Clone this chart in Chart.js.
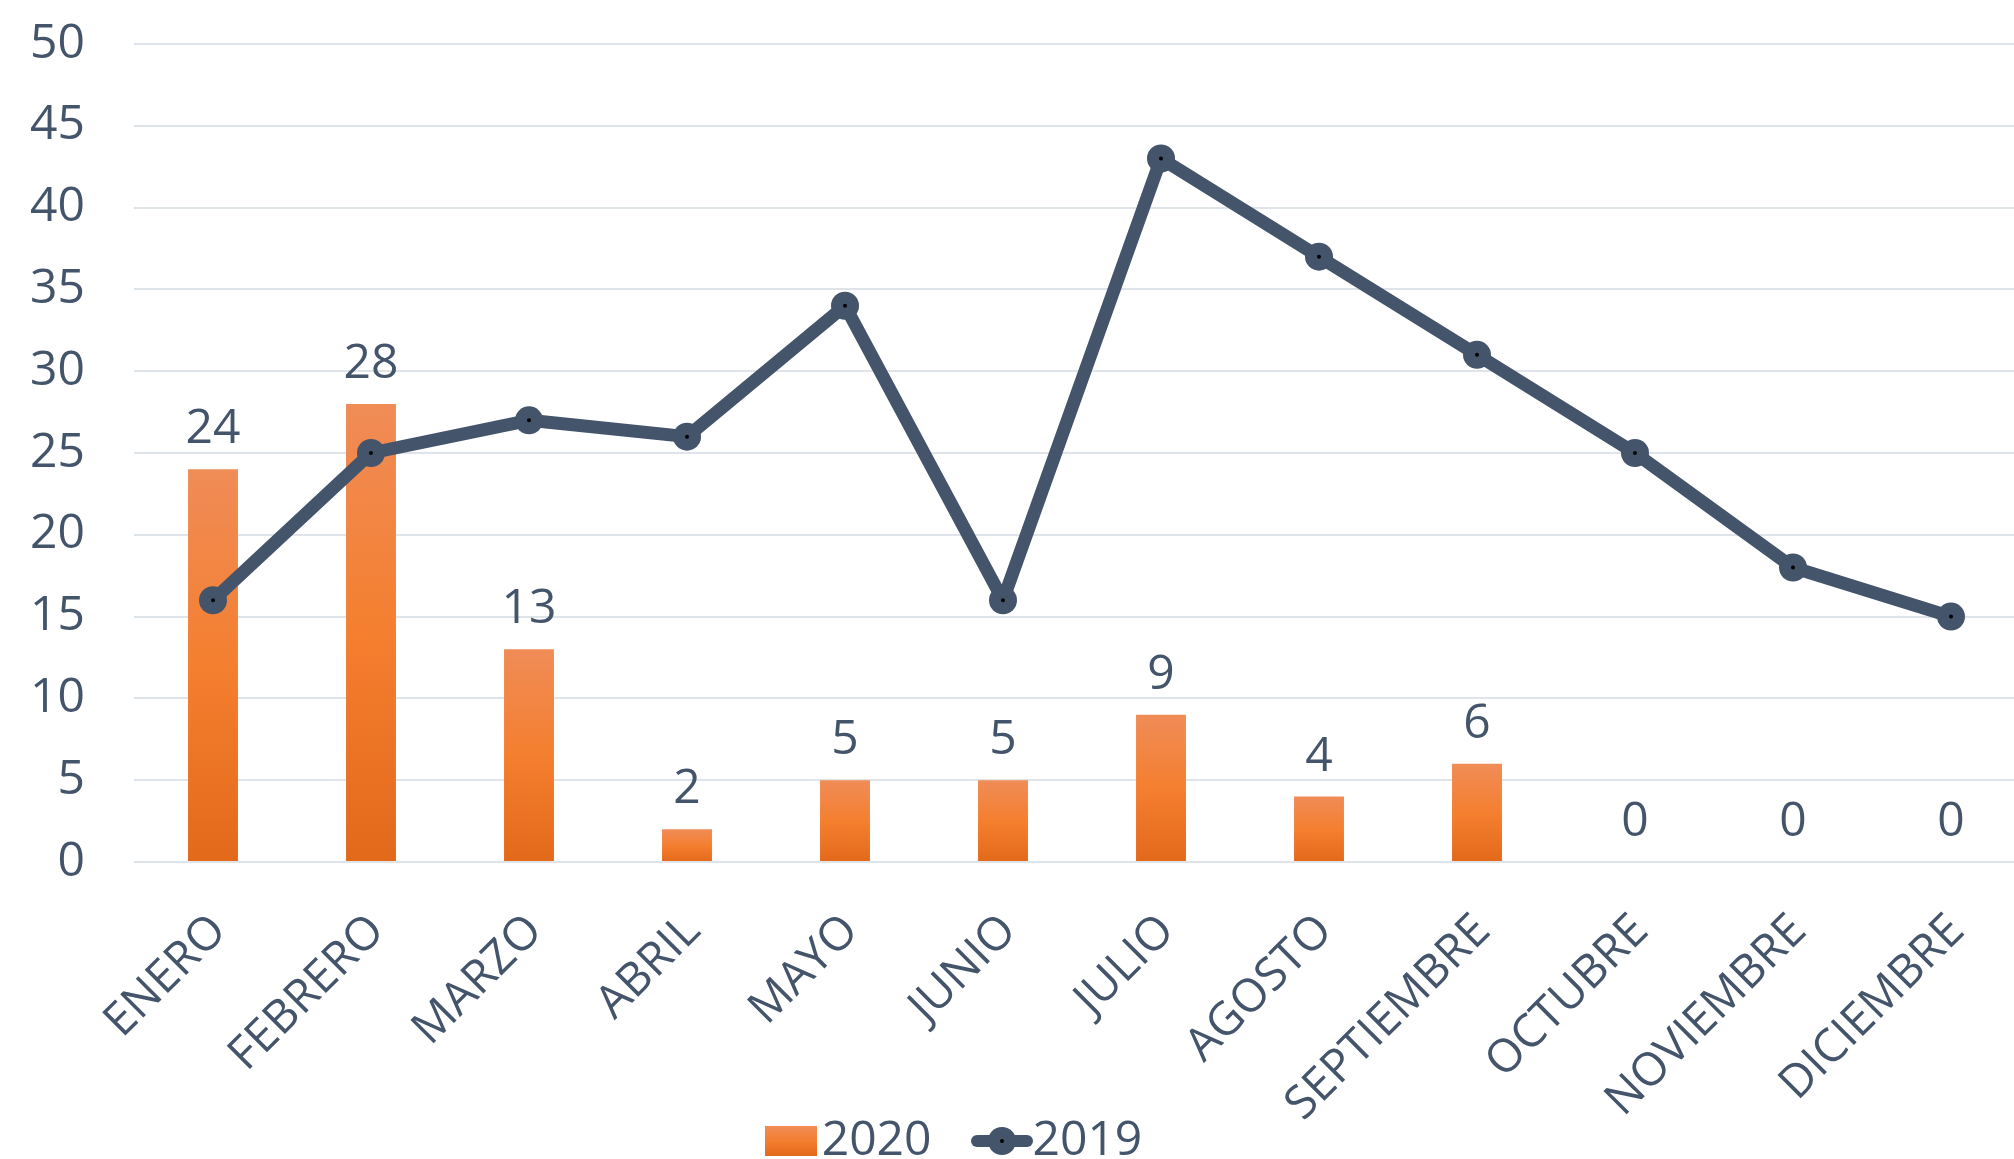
<!DOCTYPE html>
<html>
<head>
<meta charset="utf-8">
<script src="https://cdn.jsdelivr.net/npm/chart.js@4/dist/chart.umd.min.js"></script>
<style>
  html, body { margin: 0; padding: 0; background: #fff; overflow: hidden; }
  #wrap { position: absolute; left: 0; top: 0; width: 2030px; height: 1172px; }
</style>
</head>
<body>
<div id="wrap"><canvas id="chart"></canvas></div>
<script>
const months = ['ENERO', 'FEBRERO', 'MARZO', 'ABRIL', 'MAYO', 'JUNIO', 'JULIO',
  'AGOSTO', 'SEPTIEMBRE', 'OCTUBRE', 'NOVIEMBRE', 'DICIEMBRE']
const sales2020 = [24, 28, 13, 2, 5, 5, 9, 4, 6, 0, 0, 0]
const sales2019 = [16, 25, 27, 26, 34, 16, 43, 37, 31, 25, 18, 15]
const seriesNames = ['2020', '2019']

const TEXT = '#44546A'
const LINE = '#44546A'
const GRID = '#DFE3EA'
const FONT = "'Open Sans', 'Noto Sans', sans-serif"

Chart.defaults.font.family = FONT
Chart.defaults.color = TEXT

function orangeGradient(ctx, top, bottom) {
    const g = ctx.createLinearGradient(0, top, 0, bottom)
    g.addColorStop(0, '#F08C57')
    g.addColorStop(0.5, '#F47F2F')
    g.addColorStop(1, '#E3691A')
    return g
}

// legend swatches
const barSwatch = document.createElement('canvas')
barSwatch.width = 52
barSwatch.height = 30
{
    const c = barSwatch.getContext('2d')
    c.fillStyle = orangeGradient(c, 0, 30)
    c.fillRect(0, 0, 52, 30)
}
const lineSwatch = document.createElement('canvas')
lineSwatch.width = 62
lineSwatch.height = 30
{
    const c = lineSwatch.getContext('2d')
    c.strokeStyle = LINE
    c.lineWidth = 12
    c.lineCap = 'round'
    c.beginPath()
    c.moveTo(6, 15)
    c.lineTo(56, 15)
    c.stroke()
    c.fillStyle = LINE
    c.beginPath()
    c.arc(31, 15, 14, 0, Math.PI * 2)
    c.fill()
    c.fillStyle = '#000'
    c.beginPath()
    c.arc(31, 15, 2, 0, Math.PI * 2)
    c.fill()
}

const extras = {
    id: 'extras',
    afterLayout(chart) {
        // the legend sits left of the canvas centre in the original
        chart.legend.right = 1927
        chart.legend.top += 3
        chart.legend.bottom += 3
        // let the rotated month names run down past the axis box
        chart.scales.x.bottom = chart.height
    },
    afterDatasetsDraw(chart) {
        const ctx = chart.ctx
        ctx.save()
        ctx.font = '48px ' + FONT
        ctx.fillStyle = TEXT
        ctx.textAlign = 'center'
        ctx.textBaseline = 'alphabetic'
        chart.getDatasetMeta(0).data.forEach((bar, i) => {
            ctx.fillText(String(sales2020[i]), bar.x, bar.y - 26)
        })
        ctx.fillStyle = '#000'
        chart.getDatasetMeta(1).data.forEach(pt => {
            ctx.beginPath()
            ctx.arc(pt.x, pt.y, 2, 0, Math.PI * 2)
            ctx.fill()
        })
        ctx.restore()
    }
}

new Chart(document.getElementById('chart').getContext('2d'), {
    data: {
        labels: months,
        datasets: [
            {
                type: 'bar',
                label: seriesNames[0],
                data: sales2020,
                order: 2,
                categoryPercentage: 1,
                barPercentage: 0.316,
                backgroundColor: (c) => {
                    const chart = c.chart
                    if (!chart.chartArea || c.type !== 'data') return '#F47F2F'
                    const y = chart.scales.y
                    const top = y.getPixelForValue(c.raw)
                    const bottom = y.getPixelForValue(0)
                    if (bottom - top < 1) return '#F47F2F'
                    return orangeGradient(chart.ctx, top, bottom)
                }
            },
            {
                type: 'line',
                label: seriesNames[1],
                data: sales2019,
                order: 1,
                borderColor: LINE,
                borderWidth: 13,
                borderJoinStyle: 'round',
                borderCapStyle: 'round',
                tension: 0,
                pointRadius: 14,
                pointHoverRadius: 14,
                pointBorderWidth: 0,
                pointBackgroundColor: LINE,
                pointBorderColor: LINE
            }
        ]
    },
    options: {
        responsive: true,
        maintainAspectRatio: false,
        animation: false,
        layout: { autoPadding: false, padding: { top: 44, left: 0, right: 0, bottom: 0 } },
        scales: {
            x: {
                grid: { display: false, drawTicks: false },
                border: { display: false },
                ticks: {
                    autoSkip: false,
                    minRotation: 45,
                    maxRotation: 45,
                    padding: 42,
                    labelOffset: 6,
                    color: TEXT,
                    font: { size: 46 }
                },
                afterFit: (s) => {
                    s.height = 188
                    s.paddingLeft = 0
                    s.paddingRight = 0
                }
            },
            y: {
                min: 0,
                max: 50,
                grid: { color: GRID, lineWidth: 2, drawTicks: false },
                border: { display: false },
                ticks: {
                    stepSize: 5,
                    padding: 49,
                    color: TEXT,
                    font: { size: 48 }
                },
                afterFit: (s) => {
                    s.width = 134
                    s.paddingTop = 0
                    s.paddingBottom = 0
                }
            }
        },
        plugins: {
            tooltip: { enabled: false },
            legend: {
                position: 'bottom',
                labels: {
                    usePointStyle: true,
                    pointStyleWidth: 13,
                    padding: 64,
                    color: TEXT,
                    font: { size: 48 },
                    generateLabels: (chart) => {
                        const items = Chart.defaults.plugins.legend.labels.generateLabels(chart)
                        items.sort((a, b) => a.datasetIndex - b.datasetIndex)
                        items.forEach(it => {
                            it.pointStyle = it.datasetIndex === 0 ? barSwatch : lineSwatch
                        })
                        return items
                    }
                }
            }
        }
    },
    plugins: [extras]
})
</script>
</body>
</html>
